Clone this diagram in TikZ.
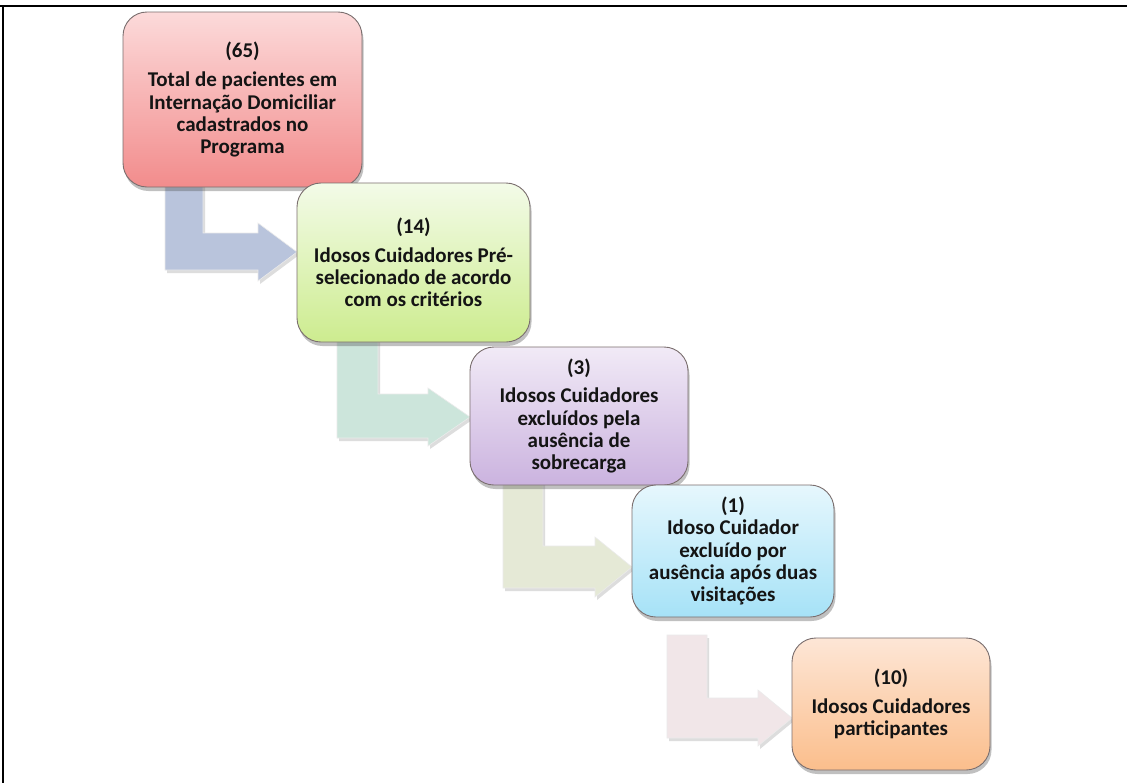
\documentclass[tikz,border=0pt]{standalone}
\usepackage{fontspec}
\setmainfont{Carlito}
\usetikzlibrary{shadows,calc}
\definecolor{txt}{HTML}{141414}
\definecolor{bordc}{HTML}{7A6E6E}
\definecolor{aone}{HTML}{B9C4DC}
\definecolor{atwo}{HTML}{CCE5DB}
\definecolor{athree}{HTML}{E5E9D6}
\definecolor{afour}{HTML}{F1E6E8}
\tikzset{
  stepbox/.style={draw=bordc, line width=0.9pt, rounded corners=24pt,
    align=center, text=txt, font=\bfseries\fontsize{21}{22.3}\selectfont,
    inner sep=0pt,
    drop shadow={shadow xshift=1.5pt, shadow yshift=-4pt, opacity=0.35, fill=black!70}},
  bend arrow/.style={draw=white!92!black, line width=0.6pt,
    drop shadow={shadow xshift=2pt, shadow yshift=-3pt, opacity=0.22, fill=black!60}},
}
\begin{document}
\begin{tikzpicture}[x=1pt,y=-1pt]
\useasboundingbox (0,0) rectangle (1127,782);
\fill[white] (0,0) rectangle (1127,782);
% frame
\draw[line width=2pt] (0,6) -- (1127,6);
\draw[line width=1.2pt] (3,6) -- (3,783);

% coordinates of node centres
\coordinate (c1) at (242.5,99.5);
\coordinate (c2) at (413.5,262.5);
\coordinate (c3) at (579,416);
\coordinate (c4) at (733,551);
\coordinate (c5) at (891,704);

% arrows (drawn first, behind boxes)
\coordinate (t1) at (297,252);
\coordinate (t2) at (470,417);
\coordinate (t3) at (632,567);
\coordinate (t4) at (792,718);
\fill[aone, bend arrow] (165,180) -- (203,180) -- (203,233) -- (258,233) -- (258,223)
   -- (t1) -- (258,281) -- (258,270) -- (165,270) -- cycle;
\fill[atwo, bend arrow] (337,335) -- (378,335) -- (378,394) -- (428,394) -- (428,388)
   -- (t2) -- (428,446) -- (428,438) -- (337,438) -- cycle;
\fill[athree, bend arrow] (503,478) -- (543,478) -- (543,546) -- (595,546) -- (595,537)
   -- (t3) -- (595,597) -- (595,588) -- (503,588) -- cycle;
\fill[afour, bend arrow] (667,635) -- (707,635) -- (707,698) -- (758,698) -- (758,690)
   -- (t4) -- (758,746) -- (758,738) -- (667,738) -- cycle;

% boxes
\node[stepbox, minimum width=239pt, minimum height=175pt,
      top color={rgb,255:red,252;green,218;blue,218}, bottom color={rgb,255:red,242;green,140;blue,140}]
  (b1) at (c1) {(65)\\[7pt]Total de pacientes em\\Internação Domiciliar\\cadastrados no\\Programa};
\node[stepbox, minimum width=233pt, minimum height=159pt,
      top color={rgb,255:red,243;green,251;blue,232}, bottom color={rgb,255:red,205;green,236;blue,143}]
  (b2) at (c2) {(14)\\[6pt]Idosos Cuidadores Pré-\\selecionado de acordo\\com os critérios};
\node[stepbox, minimum width=218pt, minimum height=138pt,
      top color={rgb,255:red,241;green,234;blue,246}, bottom color={rgb,255:red,203;green,179;blue,223}]
  (b3) at (c3) {(3)\\[6pt]Idosos Cuidadores\\excluídos pela\\ausência de\\sobrecarga};
\node[stepbox, minimum width=202pt, minimum height=132pt,
      top color={rgb,255:red,230;green,247;blue,253}, bottom color={rgb,255:red,166;green,226;blue,247}]
  (b4) at (c4) {(1)\\Idoso Cuidador\\excluído por\\ausência após duas\\visitações};
\node[stepbox, minimum width=198pt, minimum height=132pt,
      top color={rgb,255:red,253;green,230;blue,214}, bottom color={rgb,255:red,251;green,190;blue,140}]
  (b5) at (c5) {(10)\\[6pt]Idosos Cuidadores\\participantes};
\end{tikzpicture}
\end{document}
